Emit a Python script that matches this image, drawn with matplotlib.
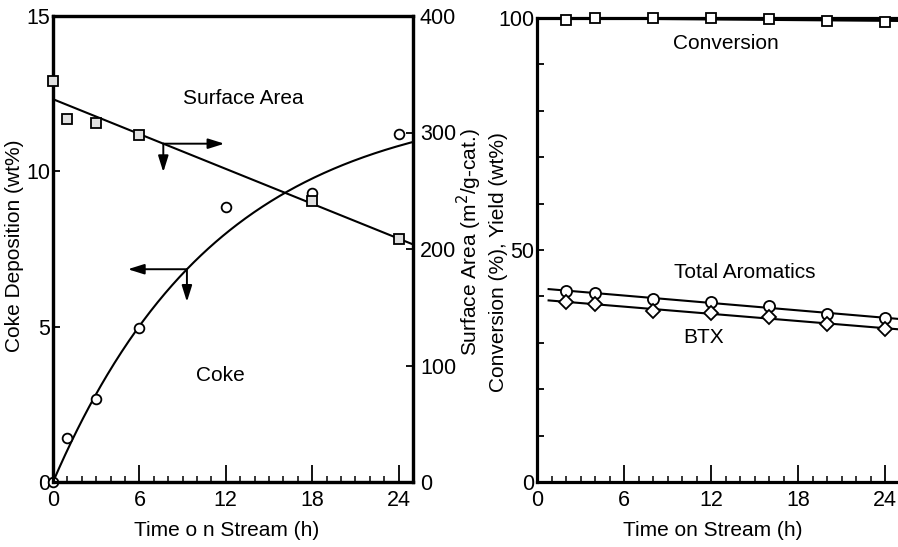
import numpy as np
import matplotlib
matplotlib.use("Agg")
import matplotlib.pyplot as plt
from matplotlib.ticker import MultipleLocator, FixedLocator, FuncFormatter

plt.rcParams['font.family'] = ['Liberation Sans', 'DejaVu Sans']

# ---- left panel: coke deposition and surface area ----
coke_t = [0, 1, 3, 6, 12, 18, 24]
coke_wt = [0.0, 1.41, 2.66, 4.97, 8.86, 9.29, 11.19]

sa_t = [0, 1, 3, 6, 18, 24]
sa_m2g = [344.5, 312, 308, 298, 241.5, 208.3]

# saturation-type fit drawn through the coke points
coke_fit_a = 12.35
coke_fit_tau = 11.5

# ---- right panel: conversion and yields ----
run_t = [2, 4, 8, 12, 16, 20, 24]
conversion = [99.6, 100.0, 99.9, 99.9, 99.8, 99.4, 99.2]
total_arom = [41.2, 40.8, 39.4, 38.7, 37.9, 36.3, 35.3]
btx = [38.9, 38.3, 36.9, 36.4, 35.6, 34.1, 33.0]

W, H = 898, 547
fig = plt.figure(figsize=(W / 100, H / 100), dpi=100)

def fx(px):
    return px / W

def fy(py):
    return 1 - py / H

ax1 = fig.add_axes([fx(53), fy(482), fx(413) - fx(53), fy(16) - fy(482)])
ax2 = ax1.twinx()
ax3 = fig.add_axes([fx(537), fy(482), fx(899.5) - fx(537), fy(18) - fy(482)])

SPINE_W = 2.3
LINE_W = 1.5
TICK_FS = 15.5
LABEL_FS = 15
NOTE_FS = 15

for ax in (ax1, ax2, ax3):
    for s in ax.spines.values():
        s.set_linewidth(SPINE_W)
ax3.spines['right'].set_visible(False)

# left panel axes
ax1.set_xlim(0, 25)
ax1.set_ylim(0, 15)
ax2.set_ylim(0, 400)
ax1.xaxis.set_major_locator(FixedLocator([0, 6, 12, 18, 24]))
ax1.xaxis.set_minor_locator(MultipleLocator(1))
ax1.yaxis.set_major_locator(FixedLocator([0, 5, 10, 15]))
ax2.yaxis.set_major_locator(FixedLocator([0, 100, 200, 300, 400]))

ax1.tick_params(axis='x', which='major', direction='in', length=12, width=1.3,
                labelsize=TICK_FS, pad=6)
ax1.tick_params(axis='x', which='minor', direction='in', length=4, width=1.1)
ax1.tick_params(axis='y', which='major', direction='in', length=5, width=1.3,
                labelsize=TICK_FS, pad=2)
ax2.tick_params(axis='y', which='major', direction='in', length=5, width=1.3,
                labelsize=TICK_FS, pad=5)

# coke data and fitted curve
tt = np.linspace(0, 25, 300)
coke_curve = coke_fit_a * (1 - np.exp(-tt / coke_fit_tau))
ax1.plot(tt, coke_curve, color='black', lw=LINE_W, clip_on=False, zorder=3)
ax1.plot(coke_t, coke_wt, linestyle='none', marker='o', ms=7, mfc='white',
         mec='black', mew=1.3, clip_on=False, zorder=4)

# surface area data and least-squares line
sa_slope, sa_icpt = np.polyfit(sa_t, sa_m2g, 1)
tl = np.array([0, 25])
ax2.plot(tl, sa_icpt + sa_slope * tl, color='black', lw=LINE_W, zorder=3)
ax2.plot(sa_t, sa_m2g, linestyle='none', marker='s', ms=7, mfc='0.88',
         mec='black', mew=1.3, clip_on=False, zorder=4)

arrow_kw = dict(arrowstyle='-|>,head_length=0.7,head_width=0.22',
                color='black', lw=1.4, mutation_scale=14,
                shrinkA=0, shrinkB=0)

# arrows pointing to the axis each curve belongs to
t_sa = 7.66
sa_here = sa_icpt + sa_slope * t_sa
ax2.annotate('', xy=(11.9, sa_here), xytext=(t_sa, sa_here), arrowprops=arrow_kw)
ax2.annotate('', xy=(t_sa, 266), xytext=(t_sa, sa_here), arrowprops=arrow_kw)

t_ck = 9.3
ck_here = coke_fit_a * (1 - np.exp(-t_ck / coke_fit_tau))
ax1.annotate('', xy=(5.2, ck_here), xytext=(t_ck, ck_here), arrowprops=arrow_kw)
ax1.annotate('', xy=(t_ck, 5.8), xytext=(t_ck, ck_here), arrowprops=arrow_kw)

ax1.text(13.2, 12.36, 'Surface Area', fontsize=NOTE_FS, ha='center', va='center')
ax1.text(11.6, 3.44, 'Coke', fontsize=NOTE_FS, ha='center', va='center')

# right panel axes
ax3.set_xlim(0, 25)
ax3.set_ylim(0, 100)
ax3.xaxis.set_major_locator(FixedLocator([0, 6, 12, 18, 24]))
ax3.xaxis.set_minor_locator(MultipleLocator(1))
ax3.yaxis.set_major_locator(MultipleLocator(10))
ax3.yaxis.set_major_formatter(FuncFormatter(
    lambda v, p: f"{int(round(v))}" if int(round(v)) in (0, 50, 100) else ""))
ax3.tick_params(axis='x', which='major', direction='in', length=12, width=1.3,
                labelsize=TICK_FS, pad=6)
ax3.tick_params(axis='x', which='minor', direction='in', length=4, width=1.1)
ax3.tick_params(axis='y', which='major', direction='in', length=5, width=1.3,
                labelsize=TICK_FS, pad=2)

conv_fit = np.polyfit(run_t, conversion, 1)
arom_fit = np.polyfit(run_t, total_arom, 1)
btx_fit = np.polyfit(run_t, btx, 1)

tc = np.array([0, 25])
ax3.plot(tc, np.polyval(conv_fit, tc), color='black', lw=LINE_W, zorder=3)
ta = np.array([0.8, 25])
ax3.plot(ta, np.polyval(arom_fit, ta), color='black', lw=LINE_W, zorder=3)
ax3.plot(ta, np.polyval(btx_fit, ta), color='black', lw=LINE_W, zorder=3)

ax3.plot(run_t, conversion, linestyle='none', marker='s', ms=7, mfc='white',
         mec='black', mew=1.3, clip_on=False, zorder=4)
ax3.plot(run_t, total_arom, linestyle='none', marker='o', ms=8, mfc='white',
         mec='black', mew=1.3, clip_on=False, zorder=4)
ax3.plot(run_t, btx, linestyle='none', marker='D', ms=7, mfc='white',
         mec='black', mew=1.3, clip_on=False, zorder=4)

ax3.text(13.0, 94.6, 'Conversion', fontsize=NOTE_FS, ha='center', va='center')
ax3.text(14.3, 45.1, 'Total Aromatics', fontsize=NOTE_FS, ha='center', va='center')
ax3.text(11.5, 31.2, 'BTX', fontsize=NOTE_FS, ha='center', va='center')

# axis titles
fig.text(fx(15), fy(246), 'Coke Deposition (wt%)', rotation=90, fontsize=LABEL_FS,
         ha='center', va='center')
fig.text(fx(469), fy(242), 'Surface Area (m$^2$/g-cat.)', rotation=90,
         fontsize=LABEL_FS, ha='center', va='center')
fig.text(fx(498), fy(262), 'Conversion (%), Yield (wt%)', rotation=90,
         fontsize=LABEL_FS, ha='center', va='center')
fig.text(fx(227), fy(530), 'Time o n Stream (h)', fontsize=LABEL_FS,
         ha='center', va='center')
fig.text(fx(713), fy(530), 'Time on Stream (h)', fontsize=LABEL_FS,
         ha='center', va='center')

fig.savefig('out.png', dpi=100)
